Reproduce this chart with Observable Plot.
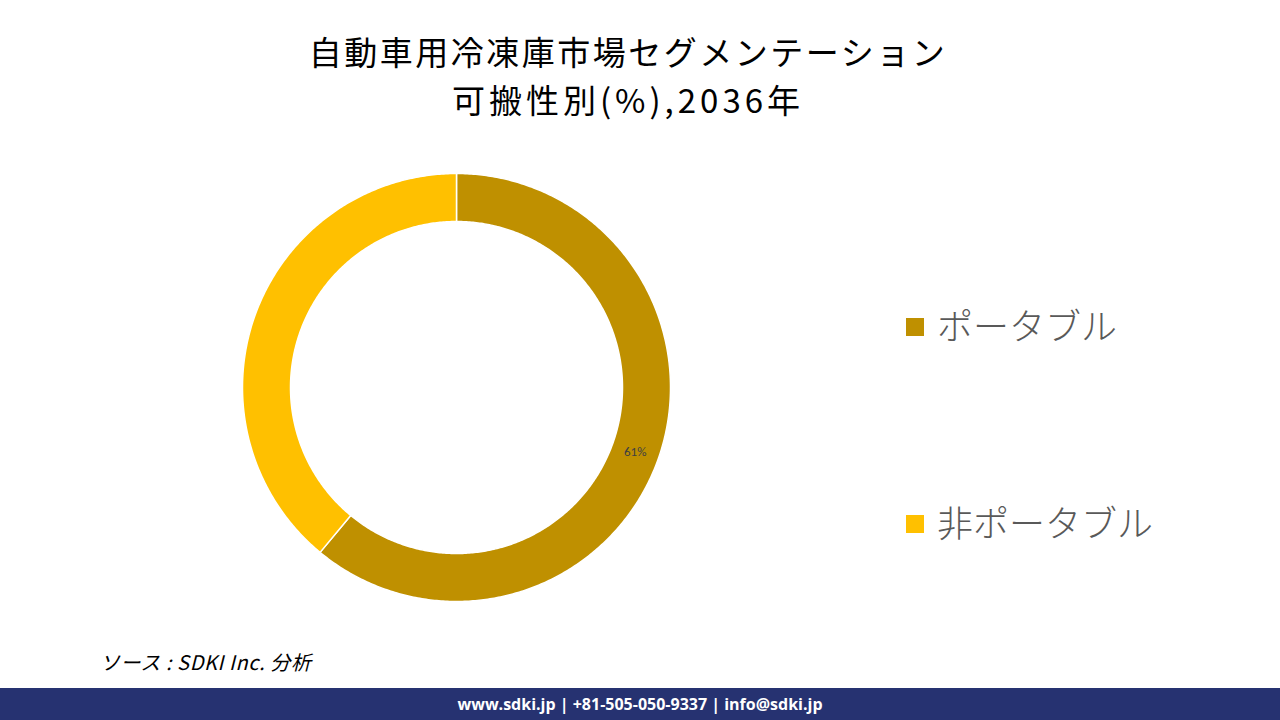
<!DOCTYPE html>
<html>
<head>
<meta charset="utf-8">
<script src="https://cdn.jsdelivr.net/npm/d3@7"></script>
<script src="https://cdn.jsdelivr.net/npm/@observablehq/plot@0.6"></script>
<style>
  html, body { margin: 0; padding: 0; background: #fff; width: 1280px; height: 720px; overflow: hidden; position: relative; font-family: "Noto Sans CJK JP", "Noto Sans", sans-serif; }
  .t { position: absolute; left: 0; width: 1256px; text-align: center; font-size: 33px; line-height: 48px; color: #000; font-family: "Noto Sans CJK JP", sans-serif; white-space: nowrap; }
  #t1 { top: 27px; letter-spacing: 2.5px; }
  #t2 { top: 75px; letter-spacing: 4px; }
  #chart { position: absolute; left: 236px; top: 167px; }
  #legend { position: absolute; left: 906px; top: 298px; }
  .item { position: absolute; left: 0; white-space: nowrap; font-size: 36px; color: #595959; font-family: "Noto Sans CJK JP", sans-serif; font-weight: 300; }
  .sw { display: inline-block; width: 18px; height: 18px; margin-right: 13px; vertical-align: middle; position: relative; top: -3px; }
  #source { position: absolute; left: 100px; top: 647px; font-size: 20px; letter-spacing: 0.6px; font-style: italic; color: #000; font-family: "Noto Sans CJK JP", sans-serif; }
  #footer { position: absolute; left: 0; top: 688px; width: 1280px; height: 32px; background: #263271; color: #fff; text-align: center; font: bold 16px/32px "Open Sans", "DejaVu Sans", sans-serif; }
</style>
</head>
<body>
<div class="t" id="t1">自動車用冷凍庫市場セグメンテーション</div>
<div class="t" id="t2">可搬性別(%),2036年</div>
<div id="chart"></div>
<div id="legend"></div>
<div id="source">ソース : SDKI Inc. 分析</div>
<div id="footer">www.sdki.jp | +81-505-050-9337 | info@sdki.jp</div>
<script>
const categories = ["ポータブル", "非ポータブル"];
const values = [61, 39];
const colors = ["#BF9000", "#FFC000"];
const showLabel = [true, false];

const outerR = 1;
const innerR = 166 / 214;
const half = 220 / 214;

const pie = d3.pie().sort(null).value(d => d.value);
const arcs = pie(categories.map((c, i) => ({category: c, value: values[i], show: showLabel[i]})));

// polygon outline of each ring segment
const poly = [];
arcs.forEach(a => {
  const n = Math.max(8, Math.ceil((a.endAngle - a.startAngle) / 0.01));
  for (let k = 0; k <= n; k++) {
    const t = a.startAngle + (a.endAngle - a.startAngle) * k / n;
    poly.push({category: a.data.category, x: outerR * Math.sin(t), y: outerR * Math.cos(t)});
  }
  for (let k = n; k >= 0; k--) {
    const t = a.startAngle + (a.endAngle - a.startAngle) * k / n;
    poly.push({category: a.data.category, x: innerR * Math.sin(t), y: innerR * Math.cos(t)});
  }
  const t0 = a.startAngle;
  poly.push({category: a.data.category, x: outerR * Math.sin(t0), y: outerR * Math.cos(t0)});
});

const labels = arcs.filter(a => a.data.show).map(a => {
  const m = (a.startAngle + a.endAngle) / 2;
  const r = (outerR + innerR) / 2;
  return {x: r * Math.sin(m), y: r * Math.cos(m), text: a.data.value + "%"};
});

const plot = Plot.plot({
  width: 440,
  height: 440,
  margin: 0,
  x: {domain: [-half, half], axis: null},
  y: {domain: [-half, half], axis: null},
  color: {domain: categories, range: colors},
  marks: [
    Plot.line(poly, {x: "x", y: "y", z: "category", fill: "category", stroke: "#fff", strokeWidth: 1.5, curve: "linear"}),
    Plot.text(labels, {x: "x", y: "y", text: "text", fill: "#404040", fontSize: 13, fontFamily: "Carlito, Calibri, 'Open Sans', sans-serif"})
  ]
});
document.getElementById("chart").appendChild(plot);

const legend = document.getElementById("legend");
categories.forEach((c, i) => {
  const d = document.createElement("div");
  d.className = "item";
  d.style.top = (i * 197) + "px";
  d.innerHTML = `<span class="sw" style="background:${colors[i]}"></span>${c}`;
  legend.appendChild(d);
});
</script>
</body>
</html>
